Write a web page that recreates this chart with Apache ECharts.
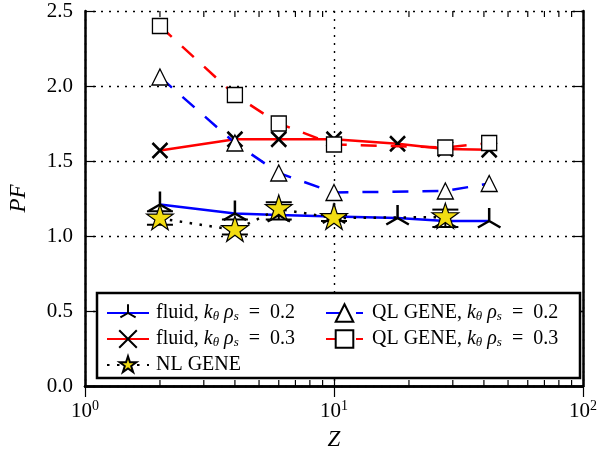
<!DOCTYPE html>
<html>
<head>
<meta charset="utf-8">
<script src="https://cdn.jsdelivr.net/npm/echarts@6/dist/echarts.min.js"></script>
<style>
  html, body { margin: 0; padding: 0; background: #fff; }
  #main { width: 613px; height: 450px; }
</style>
</head>
<body>
<div id="main"></div>
<script>
var chartDom = document.getElementById('main');
var myChart = echarts.init(chartDom);
var option;

// data
var zFluid = [2, 4, 6, 10, 18, 28, 42];
var pfFluid02 = [1.21, 1.15, 1.14, 1.13, 1.12, 1.10, 1.10];
var pfFluid03 = [1.57, 1.645, 1.645, 1.645, 1.615, 1.58, 1.575];
var zNL = [2, 4, 6, 10, 28];
var pfNL = [1.117, 1.04, 1.18, 1.12, 1.126];
var nlLow = [1.075, 1.01, 1.11, 1.10, 1.06];
var nlHigh = [1.165, 1.11, 1.225, 1.14, 1.176];
var zQL = [2, 4, 6, 10, 28, 42];
var pfQL02 = [2.06, 1.62, 1.42, 1.29, 1.30, 1.35];
var pfQL03 = [2.40, 1.94, 1.75, 1.61, 1.59, 1.62];
var minorTicks = [2, 3, 4, 5, 6, 7, 8, 9, 20, 30, 40, 50, 60, 70, 80, 90];
var xTickLabels = {1: '0', 10: '1', 100: '2'};

var legendText = {
  fluid02: ['fluid, ', '0.2'],
  fluid03: ['fluid, ', '0.3'],
  nl: ['NL GENE'],
  ql02: ['QL GENE, ', '0.2'],
  ql03: ['QL GENE, ', '0.3']
};

function pairs(xs, ys) {
  return xs.map(function (x, i) { return [x, ys[i]]; });
}

// marker shapes (matplotlib style)
var triUp = 'path://M10 10 L10 0 M10 10 L1.34 15 M10 10 L18.66 15 M0 10 L0 10 M20 10 L20 10 M10 20 L10 20';
var xMark = 'path://M0 0 L20 20 M20 0 L0 20';
function starPath() {
  var s = 'path://';
  for (var i = 0; i < 10; i++) {
    var r = i % 2 === 0 ? 10 : 3.82;
    var a = Math.PI / 5 * i;
    s += (i === 0 ? 'M' : 'L') + (10 + r * Math.sin(a)).toFixed(2) + ' ' + (10 - r * Math.cos(a)).toFixed(2) + ' ';
  }
  return s + 'Z M10 20 L10 20 M0 10 L0 10 M20 10 L20 10';
}

var serif = 'Liberation Serif';
var rich = {
  t: { fontFamily: serif, fontSize: 20, color: '#000' },
  i: { fontFamily: serif, fontSize: 20, fontStyle: 'italic', color: '#000' },
  sub: { fontFamily: serif, fontSize: 13, fontStyle: 'italic', color: '#000', verticalAlign: 'bottom', padding: [8, 0, 0, 0] }
};
function legendFormat(name) {
  var p = legendText[name];
  if (p.length === 1) return '{t|' + p[0] + '}';
  return '{t|' + p[0] + '}{i|k}{sub|θ}{i| ρ}{sub|s}{t|  =  ' + p[1] + '}';
}

option = {
  animation: false,
  backgroundColor: '#fff',
  grid: { left: 85, right: 30, top: 11, bottom: 64, outerBoundsMode: 'none' },
  xAxis: [{
    type: 'log',
    logBase: 10,
    min: 1,
    max: 100,
    name: 'Z',
    nameLocation: 'middle',
    nameGap: 42,
    nameTextStyle: { fontFamily: serif, fontStyle: 'italic', fontSize: 23, color: '#000' },
    axisLine: { lineStyle: { color: '#000', width: 2.5 } },
    axisTick: { inside: true, length: 11, lineStyle: { color: '#000', width: 1.2 } },
    axisLabel: {
      margin: 13,
      formatter: function (v) { return '{b|10}{s|' + xTickLabels[Math.round(v)] + '}'; },
      rich: {
        b: { fontFamily: serif, fontSize: 21, color: '#000' },
        s: { fontFamily: serif, fontSize: 14, color: '#000', verticalAlign: 'top', padding: [0, 0, 10, 0] }
      }
    },
    splitLine: { show: true, lineStyle: { color: '#000', type: [2, 6], width: 1.4 } }
  }, {
    type: 'log',
    logBase: 10,
    min: 1,
    max: 100,
    position: 'top',
    axisLine: { lineStyle: { color: '#000', width: 2.5 } },
    axisTick: { inside: true, length: 11, lineStyle: { color: '#000', width: 1.2 } },
    axisLabel: { show: false },
    splitLine: { show: false }
  }],
  yAxis: [{
    type: 'value',
    min: 0,
    max: 2.5,
    interval: 0.5,
    name: 'PF',
    nameLocation: 'middle',
    nameGap: 55,
    nameTextStyle: { fontFamily: serif, fontStyle: 'italic', fontSize: 23, color: '#000' },
    axisLine: { show: true, lineStyle: { color: '#000', width: 2.5 } },
    axisTick: { show: true, inside: true, length: 11, lineStyle: { color: '#000', width: 1.2 } },
    axisLabel: {
      margin: 12,
      fontFamily: serif, fontSize: 21, color: '#000',
      formatter: function (v) { return v.toFixed(1); }
    },
    splitLine: { show: true, lineStyle: { color: '#000', type: [2, 6], width: 1.4 } }
  }, {
    type: 'value',
    min: 0,
    max: 2.5,
    interval: 0.5,
    position: 'right',
    axisLine: { show: true, lineStyle: { color: '#000', width: 2.5 } },
    axisTick: { show: true, inside: true, length: 11, lineStyle: { color: '#000', width: 1.2 } },
    axisLabel: { show: false },
    splitLine: { show: false }
  }],
  legend: [{
    data: ['fluid02', 'fluid03', 'nl'],
    orient: 'vertical',
    left: 101,
    top: 298,
    itemWidth: 42,
    itemHeight: 22,
    itemGap: 5.5,
    z: 12,
    formatter: legendFormat,
    textStyle: { rich: rich, padding: [0, 0, 0, 2] }
  }, {
    data: ['ql02', 'ql03'],
    orient: 'vertical',
    left: 320,
    top: 298,
    itemWidth: 37,
    itemHeight: 22,
    itemGap: 5.5,
    z: 12,
    formatter: legendFormat,
    textStyle: { rich: rich, padding: [0, 0, 0, 4] }
  }],
  graphic: [{
    type: 'rect',
    z: 11,
    shape: { x: 97, y: 293, width: 483, height: 85 },
    style: { fill: '#fff', stroke: '#000', lineWidth: 2.5 }
  }],
  series: [
    {
      type: 'custom',
      name: 'minor',
      silent: true,
      clip: false,
      data: minorTicks.map(function (v) { return [v, 0]; }),
      renderItem: function (params, api) {
        var b = api.coord([api.value(0), 0]);
        var t = api.coord([api.value(0), 2.5]);
        var st = { stroke: '#000', lineWidth: 1.2 };
        return { type: 'group', children: [
          { type: 'line', shape: { x1: b[0], y1: b[1], x2: b[0], y2: b[1] - 6 }, style: st },
          { type: 'line', shape: { x1: t[0], y1: t[1], x2: t[0], y2: t[1] + 6 }, style: st }
        ] };
      },
      z: 1
    },
    {
      name: 'fluid02',
      type: 'line',
      data: pairs(zFluid, pfFluid02),
      symbol: triUp,
      symbolSize: 26,
      lineStyle: { color: '#0000ff', width: 2.5 },
      itemStyle: { color: 'rgba(0,0,0,0)', borderColor: '#000', borderWidth: 2.5 },
      z: 2
    },
    {
      name: 'fluid03',
      type: 'line',
      data: pairs(zFluid, pfFluid03),
      symbol: xMark,
      symbolSize: 15,
      lineStyle: { color: '#ff0000', width: 2.5 },
      itemStyle: { color: 'rgba(0,0,0,0)', borderColor: '#000', borderWidth: 2.5 },
      z: 3
    },
    {
      type: 'custom',
      name: 'nlErr',
      silent: true,
      data: zNL.map(function (z, i) { return [z, nlLow[i], nlHigh[i]]; }),
      renderItem: function (params, api) {
        var lo = api.coord([api.value(0), api.value(1)]);
        var hi = api.coord([api.value(0), api.value(2)]);
        var st = { stroke: '#000', lineWidth: 2 };
        return { type: 'group', children: [
          { type: 'line', shape: { x1: lo[0], y1: lo[1], x2: hi[0], y2: hi[1] }, style: st },
          { type: 'line', shape: { x1: lo[0] - 13, y1: lo[1], x2: lo[0] + 13, y2: lo[1] }, style: st },
          { type: 'line', shape: { x1: hi[0] - 13, y1: hi[1], x2: hi[0] + 13, y2: hi[1] }, style: st }
        ] };
      },
      z: 4
    },
    {
      name: 'nl',
      type: 'line',
      data: pairs(zNL, pfNL),
      symbol: starPath(),
      symbolSize: 28,
      lineStyle: { color: '#000', width: 2.5, type: [2.5, 7.5] },
      itemStyle: { color: '#f2dc12', borderColor: '#000', borderWidth: 1.2 },
      z: 4
    },
    {
      name: 'ql02',
      type: 'line',
      data: pairs(zQL, pfQL02),
      symbol: 'triangle',
      symbolSize: 16,
      lineStyle: { color: '#0000ff', width: 2.5, type: [16, 14] },
      itemStyle: { color: '#fff', borderColor: '#000', borderWidth: 1.3 },
      z: 5
    },
    {
      name: 'ql03',
      type: 'line',
      data: pairs(zQL, pfQL03),
      symbol: 'rect',
      symbolSize: 15,
      lineStyle: { color: '#ff0000', width: 2.5, type: [16, 14] },
      itemStyle: { color: '#fff', borderColor: '#000', borderWidth: 1.3 },
      z: 6
    }
  ]
};

myChart.setOption(option);
</script>
</body>
</html>
